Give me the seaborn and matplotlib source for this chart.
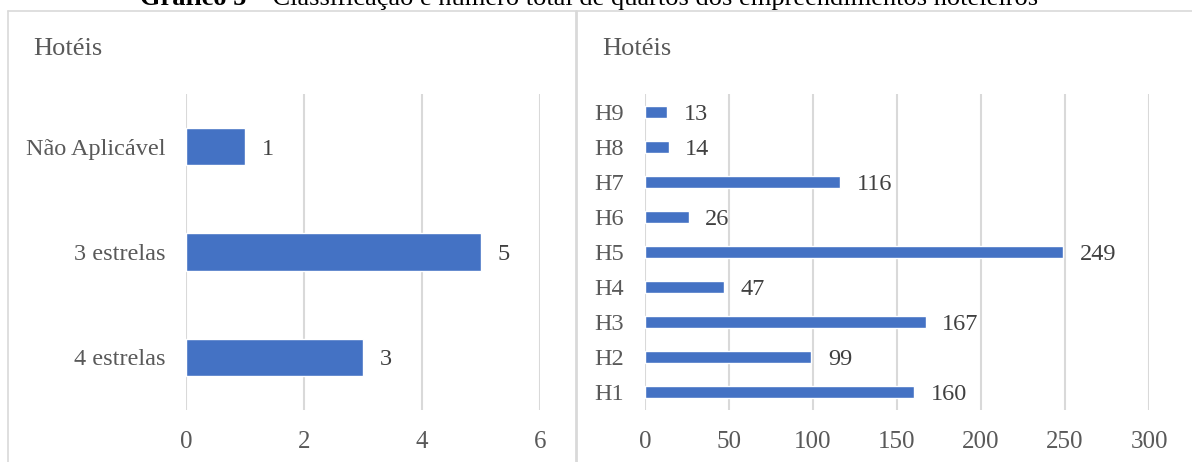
import pandas as pd
import seaborn as sns
import matplotlib.pyplot as plt
from matplotlib.lines import Line2D

# data
classes = ["Não Aplicável", "3 estrelas", "4 estrelas"]
class_counts = [1, 5, 3]
hotels = ["H9", "H8", "H7", "H6", "H5", "H4", "H3", "H2", "H1"]
rooms = [13, 14, 116, 26, 249, 47, 167, 99, 160]
left_ticks = [0, 2, 4, 6]
right_ticks = [0, 50, 100, 150, 200, 250, 300]

sns.set_theme(style="white")
plt.rcParams['font.family'] = ['Liberation Serif', 'DejaVu Serif']

W, H = 1192, 462
fig = plt.figure(figsize=(W / 100, H / 100), dpi=100)

BLUE = "#4472C4"
GRID = "#d9d9d9"
TICK = "#595959"
LAB = "#404040"

def px(x, y):
    return x / W, 1 - y / H

# panel frames
fig.add_artist(Line2D([px(8, 0)[0], 1], [px(0, 11)[1]] * 2, color=GRID, lw=1.2))
fig.add_artist(Line2D([px(8, 0)[0]] * 2, [0, px(0, 11)[1]], color=GRID, lw=1.2))
fig.add_artist(Line2D([px(576, 0)[0]] * 2, [0, px(0, 11)[1]], color=GRID, lw=2))

# title, cut off at the top as in the source
t1 = fig.text(*px(140, 5), "Gráfico 5", fontsize=19, fontweight="bold", color="black",
              va="baseline", ha="left")
fig.canvas.draw()
bb = t1.get_window_extent()
fig.text(bb.x1 / W, px(0, 5)[1], " – Classificação e número total de quartos dos empreendimentos hoteleiros",
         fontsize=19, color="black", va="baseline", ha="left")

fig.text(*px(33, 55), "Hotéis", fontsize=19, color=TICK, va="baseline")
fig.text(*px(602, 55), "Hotéis", fontsize=19, color=TICK, va="baseline")

ax1 = fig.add_axes([186 / W, 1 - 410 / H, (540 - 186) / W, (410 - 94) / H])
ax2 = fig.add_axes([645 / W, 1 - 410 / H, (1149 - 645) / W, (410 - 94) / H])

df1 = pd.DataFrame({"cat": classes, "n": class_counts})
df2 = pd.DataFrame({"cat": hotels, "n": rooms})

sns.barplot(data=df1, x="n", y="cat", ax=ax1, color=BLUE, saturation=1, width=0.355, orient="h")
sns.barplot(data=df2, x="n", y="cat", ax=ax2, color=BLUE, saturation=1, width=0.34, orient="h")

for ax, ticks, vals in [(ax1, left_ticks, class_counts), (ax2, right_ticks, rooms)]:
    ax.set_xlim(ticks[0], ticks[-1])
    ax.set_xticks(ticks)
    ax.set_xlabel("")
    ax.set_ylabel("")
    for s in ax.spines.values():
        s.set_visible(False)
    ax.grid(axis="x", color=GRID, lw=1.5)
    ax.set_axisbelow(True)
    ax.tick_params(axis="x", length=0, pad=15, labelsize=18, labelcolor=TICK)
    ax.tick_params(axis="y", length=0, pad=15, labelsize=17.5, labelcolor=TICK)
    for i, v in enumerate(vals):
        ax.annotate(str(v), (v, i), xytext=(12, 0), textcoords="offset points",
                    ha="left", va="center_baseline", fontsize=17.5, color=LAB)

fig.savefig("out.png", dpi=100)
